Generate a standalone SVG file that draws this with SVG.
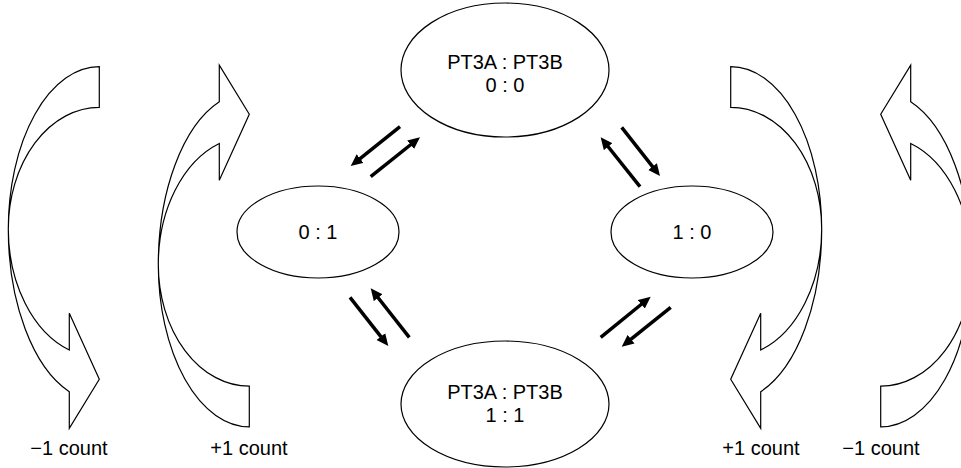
<svg xmlns="http://www.w3.org/2000/svg" xmlns:xlink="http://www.w3.org/1999/xlink" width="961" height="468" viewBox="0 0 961 468">
<style>
.node ellipse{fill:#fff;stroke:#000;stroke-width:1.2}
.lbl{font-family:"Liberation Sans",Arial,sans-serif;font-size:20px;fill:#000;text-anchor:middle}
.curve{fill:none;stroke:#000;stroke-width:1.2;stroke-linejoin:miter}
.conn line{stroke:#000;stroke-width:3.5;marker-end:url(#ah)}
</style>
<defs>
<marker id="ah" markerUnits="userSpaceOnUse" markerWidth="13" markerHeight="12" refX="6" refY="6" orient="auto">
<path d="M0,0.5 L12,6 L0,11.5 z" fill="#000"/>
</marker>
<path id="carrow" class="curve" d="M99.3,66.7 L99.3,107.3 A91,121.7 0 0 0 8.3,229 A91,128.2 0 0 0 69.3,350 L69.3,313.3 L99.3,379.3 L69.3,428.3 L69.3,391.7 A91,172.3 0 0 1 8.3,229 A91,162.3 0 0 1 99.3,66.7 Z"/>
</defs>
<rect width="961" height="468" fill="#fff"/>

<g id="cycle-left-minus">
<use xlink:href="#carrow" href="#carrow"/>
<text class="lbl" x="69" y="455">−1 count</text>
</g>
<g id="cycle-left-plus">
<use xlink:href="#carrow" href="#carrow" transform="matrix(1,0,0,-1,150,493.5)"/>
<text class="lbl" x="249" y="455">+1 count</text>
</g>
<g id="cycle-right-plus">
<use xlink:href="#carrow" href="#carrow" transform="matrix(-1,0,0,1,830,0)"/>
<text class="lbl" x="761" y="455">+1 count</text>
</g>
<g id="cycle-right-minus">
<use xlink:href="#carrow" href="#carrow" transform="matrix(-1,0,0,-1,980,493.5)"/>
<text class="lbl" x="881" y="455">−1 count</text>
</g>

<g id="state-00" class="node">
<ellipse cx="505" cy="70" rx="104" ry="67"/>
<text class="lbl" x="505" y="69">PT3A : PT3B</text>
<text class="lbl" x="505" y="92">0 : 0</text>
</g>
<g id="state-01" class="node">
<ellipse cx="318" cy="232" rx="81" ry="46"/>
<text class="lbl" x="318" y="239">0 : 1</text>
</g>
<g id="state-10" class="node">
<ellipse cx="692" cy="232" rx="81" ry="46"/>
<text class="lbl" x="692" y="239">1 : 0</text>
</g>
<g id="state-11" class="node">
<ellipse cx="505" cy="404" rx="104" ry="63"/>
<text class="lbl" x="505" y="399">PT3A : PT3B</text>
<text class="lbl" x="505" y="422">1 : 1</text>
</g>

<g id="connectors" class="conn">
<line x1="400" y1="126.7" x2="355.4" y2="162.3"/>
<line x1="370.7" y1="176.7" x2="415.3" y2="141"/>
<line x1="350" y1="297.3" x2="384.6" y2="341.3"/>
<line x1="409.3" y1="337.3" x2="374.4" y2="293"/>
<line x1="621.7" y1="127.3" x2="656.3" y2="171.3"/>
<line x1="640" y1="186.7" x2="604.4" y2="142"/>
<line x1="600.7" y1="337.3" x2="646" y2="300.5"/>
<line x1="670.7" y1="307.3" x2="626.4" y2="342.9"/>
</g>
</svg>
